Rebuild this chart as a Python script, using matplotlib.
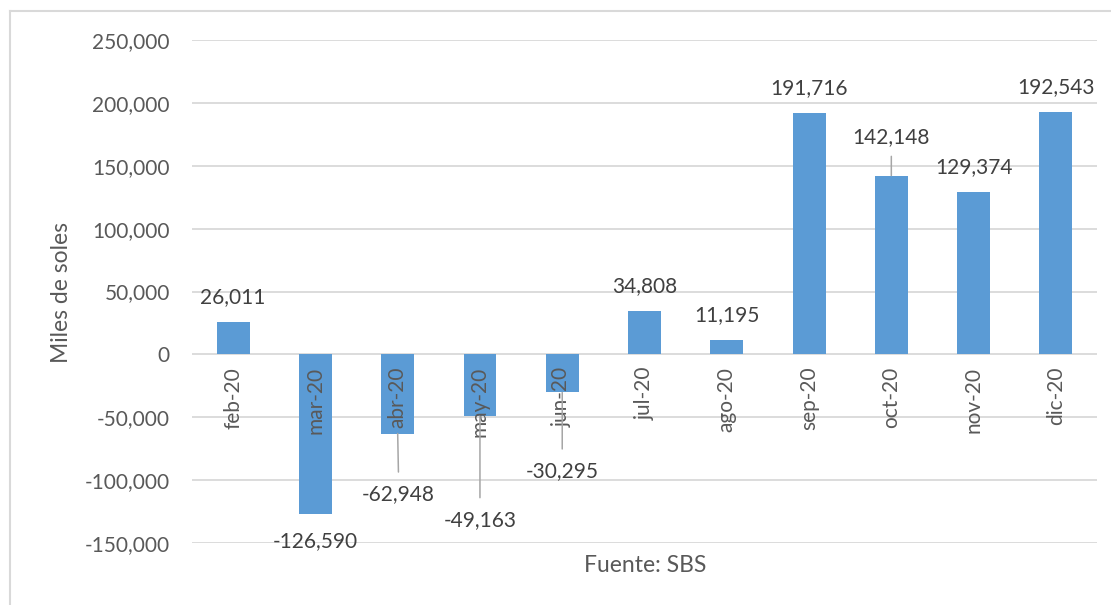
import matplotlib
matplotlib.use("Agg")
import matplotlib.pyplot as plt
from matplotlib.lines import Line2D

# Monthly figures, thousands of soles
months = ["feb-20", "mar-20", "abr-20", "may-20", "jun-20", "jul-20",
          "ago-20", "sep-20", "oct-20", "nov-20", "dic-20"]
values = [26011, -126590, -62948, -49163, -30295, 34808,
          11195, 191716, 142148, 129374, 192543]

y_ticks = [-150000, -100000, -50000, 0, 50000, 100000, 150000, 200000, 250000]

# Label placement (pixel offsets from the bar end) and whether a leader line is drawn
label_dx = [0, 0, 1, 0, 0, 0, 0, 0, 0, 0, 0]
label_dy = [25, -28, -61, -104, -79, 25, 25, 25, 39, 25, 25]
leader = [False, False, True, True, True, False, False, False, True, False, False]

BAR = "#5B9BD5"
TXT = "#595959"
GRID = "#D9D9D9"
FONT = "Lato"
FS = 15

W, H, DPI = 1111, 605, 100
fig = plt.figure(figsize=(W / DPI, H / DPI), dpi=DPI)
fig.patch.set_facecolor("white")

left, right, top, bottom = 192, 1097, 40, 543
ax = fig.add_axes([left / W, 1 - bottom / H, (right - left) / W, (bottom - top) / H])

x = list(range(len(months)))
ax.bar(x, values, width=0.4, color=BAR, zorder=2)

ax.set_xlim(-0.5, len(months) - 0.5)
ax.set_ylim(-150000, 250000)
ax.set_yticks(y_ticks)
ax.set_yticklabels([f"{v:,}" for v in y_ticks], fontsize=FS, color=TXT, family=FONT)
# Gridlines behind the bars, category labels in front of them
for t in y_ticks:
    ax.axhline(t, color=GRID, linewidth=1.3, zorder=0.5)
ax.set_axisbelow(False)

# Category labels sit on the zero line, rotated
ax.spines["bottom"].set_position(("data", 0))
ax.set_xticks(x)
ax.set_xticklabels(months, rotation=90, fontsize=FS, color=TXT, family=FONT,
                   va="top", ha="center")
ax.tick_params(axis="x", length=0, pad=9)
ax.tick_params(axis="y", length=0, pad=16)
for s in ax.spines.values():
    s.set_visible(False)

# Value labels
for i, v in enumerate(values):
    kw = {}
    if leader[i]:
        relpos = (0.5, 1.0) if v < 0 else (0.5, 0.0)
        kw["arrowprops"] = dict(arrowstyle="-", color="#A6A6A6", lw=1.1,
                                shrinkA=7 if v < 0 else 5, shrinkB=0,
                                relpos=relpos)
    ax.annotate(f"{v:,}", xy=(i, v), xytext=(label_dx[i], label_dy[i]),
                textcoords="offset pixels", ha="center", va="center",
                fontsize=FS, color="#404040", family=FONT, zorder=4,
                annotation_clip=False, **kw)

fig.text(62 / W, 1 - 292 / H, "Miles de soles", rotation=90, ha="center",
         va="center", fontsize=16.5, color=TXT, family=FONT)
fig.text(645 / W, 1 - 565 / H, "Fuente: SBS", ha="center", va="center",
         fontsize=16.5, color=TXT, family=FONT)

# Chart frame (top and left edges)
fig.add_artist(Line2D([10 / W, 10 / W], [0, 1 - 11 / H], transform=fig.transFigure,
                      color=GRID, lw=1.5))
fig.add_artist(Line2D([10 / W, 1], [1 - 11 / H, 1 - 11 / H], transform=fig.transFigure,
                      color=GRID, lw=1.5))

fig.savefig("out.png", dpi=DPI)
